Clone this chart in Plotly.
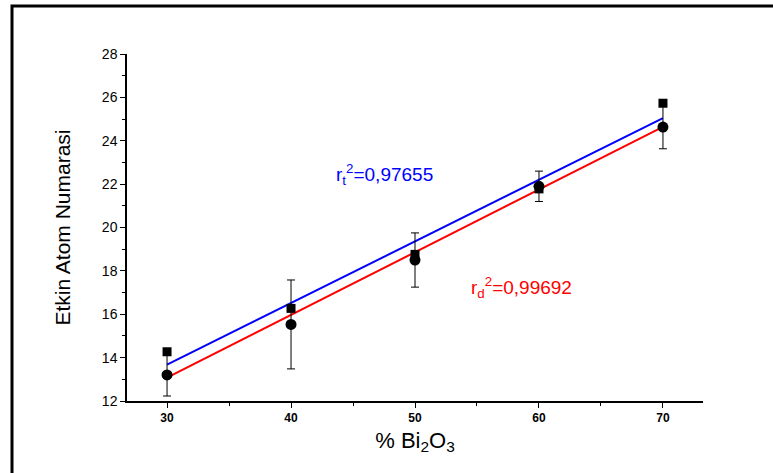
import plotly.graph_objects as go

# Data
x_pct = [30, 40, 50, 60, 70]
zeff_t = [14.27, 16.27, 18.76, 21.78, 25.73]      # squares
zeff_d = [13.20, 15.53, 18.50, 21.90, 24.63]      # circles
err_d = [0.97, 2.05, 1.25, 0.70, 1.00]
fit_x = [30, 70]
fit_t = [13.68, 25.04]
fit_d = [13.08, 24.64]
y_ticks = [12, 14, 16, 18, 20, 22, 24, 26, 28]
x_ticks = [30, 40, 50, 60, 70]

fig = go.Figure()
fig.add_trace(go.Scatter(x=fit_x, y=fit_t, mode="lines",
                         line=dict(color="#0000FF", width=2), showlegend=False))
fig.add_trace(go.Scatter(x=fit_x, y=fit_d, mode="lines",
                         line=dict(color="#FF0000", width=2), showlegend=False))
fig.add_trace(go.Scatter(x=x_pct, y=zeff_d, mode="markers",
                         marker=dict(symbol="circle", size=11, color="black"),
                         error_y=dict(type="data", array=err_d, color="black",
                                      thickness=1, width=4),
                         showlegend=False))
fig.add_trace(go.Scatter(x=x_pct, y=zeff_t, mode="markers",
                         marker=dict(symbol="square", size=9, color="black"),
                         showlegend=False))

fig.update_layout(
    width=773, height=473,
    margin=dict(l=127, r=70, t=54, b=72),
    paper_bgcolor="white", plot_bgcolor="white",
    font=dict(family="Liberation Sans, Arial", color="black"),
    xaxis=dict(range=[26.77, 73.23], tickvals=x_ticks, ticks="outside",
               ticklen=5, tickwidth=1, tickcolor="black",
               showline=True, linecolor="black", linewidth=1.5,
               showgrid=False, zeroline=False,
               tickfont=dict(size=12, family="Liberation Sans, Arial", weight="bold"),
               minor=dict(ticks="outside", dtick=5, tick0=25, ticklen=3, tickcolor="black", showgrid=False),
               title=dict(text="% Bi<sub>2</sub>O<sub>3</sub>", font=dict(size=22), standoff=8)),
    yaxis=dict(range=[12, 28], tickvals=y_ticks, ticks="outside",
               ticklen=5, tickwidth=1, tickcolor="black",
               showline=True, linecolor="black", linewidth=1.5,
               showgrid=False, zeroline=False,
               tickfont=dict(size=14),
               minor=dict(ticks="outside", dtick=1, ticklen=3, tickcolor="black", showgrid=False),
               title=dict(text="Etkin Atom Numarasi", font=dict(size=21), standoff=26)),
)

fig.add_annotation(xref="paper", yref="paper", x=(334 - 127) / 576, y=(401 - 174) / 347,
                   xanchor="left", yanchor="middle", showarrow=False,
                   text="r<sub>t</sub><sup>2</sup>=0,97655",
                   font=dict(size=19, color="#0000FF"))
fig.add_annotation(xref="paper", yref="paper", x=(469 - 127) / 576, y=(401 - 287) / 347,
                   xanchor="left", yanchor="middle", showarrow=False,
                   text="r<sub>d</sub><sup>2</sup>=0,99692",
                   font=dict(size=19, color="#FF0000"))

# outer frame (cut off at right and bottom, as in the reference)
fig.add_shape(type="rect", xref="paper", yref="paper",
              x0=(12 - 127) / 576, x1=1.3, y0=-0.4, y1=(401 - 6) / 347,
              line=dict(color="black", width=3), layer="below")

fig.write_html("out.html")
